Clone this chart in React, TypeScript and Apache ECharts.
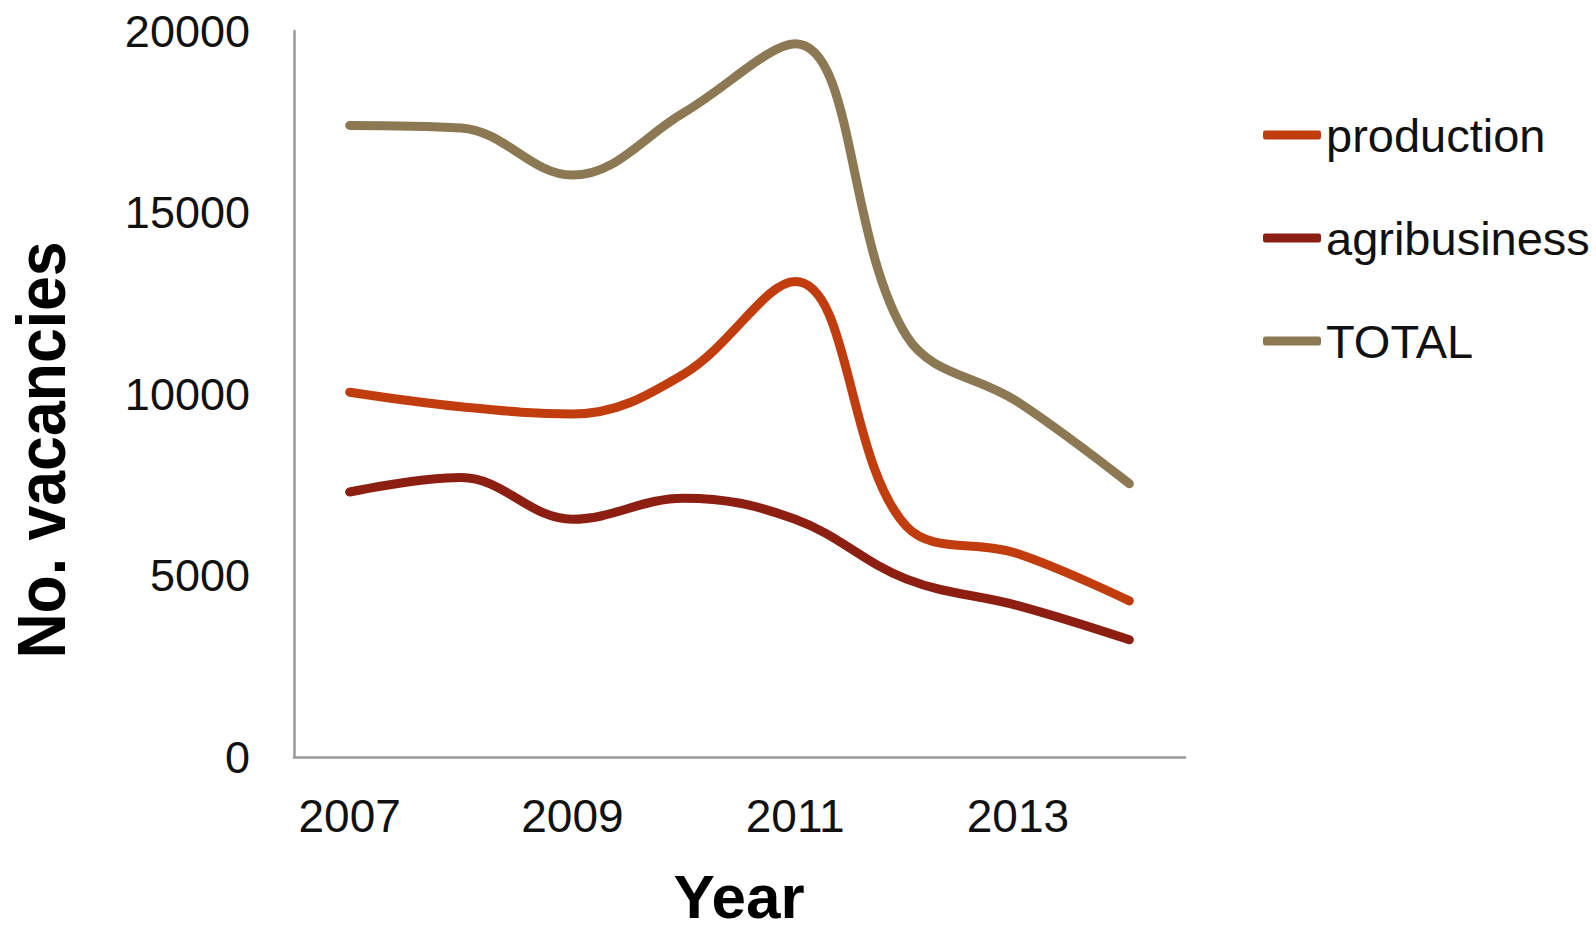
import React, { useEffect, useRef } from "react";
import * as echarts from "echarts";

const years = ["2007", "2008", "2009", "2010", "2011", "2012", "2013", "2014"];
const production = [10050, 9650, 9450, 10550, 13100, 6350, 5600, 4300];
const agribusiness = [7300, 7700, 6550, 7130, 6550, 4900, 4170, 3230];
const total = [17400, 17330, 16030, 17750, 19650, 11600, 9780, 7530];

const seriesNames = ["production", "agribusiness", "TOTAL"];
const seriesColors = ["#C23D0E", "#8C1F12", "#8C7953"];
const yTicks = { min: 0, max: 20000, interval: 5000 };
const xTitle = "Year";
const yTitle = "No. vacancies";

const FONT = "'Liberation Sans', Arial, Helvetica, sans-serif";

export default function App() {
  const ref = useRef<HTMLDivElement>(null);
  useEffect(() => {
    document.body.style.margin = "0";
    if (!ref.current) return;
    const chart = echarts.init(ref.current, undefined, { renderer: "svg" });
    const data = [production, agribusiness, total];
    chart.setOption({
      animation: false,
      backgroundColor: "#ffffff",
      grid: {
        left: 294,
        right: 411,
        top: 31,
        bottom: 174,
        containLabel: false,
        outerBoundsMode: "none",
      },
      legend: {
        orient: "vertical",
        left: 1258,
        top: 102,
        icon: "roundRect",
        itemWidth: 58,
        itemHeight: 9,
        itemGap: 47,
        data: seriesNames,
        textStyle: { fontFamily: FONT, fontSize: 47, color: "#111", lineHeight: 56 },
      },
      graphic: [
        {
          type: "text",
          x: 739,
          y: 896,
          style: {
            text: xTitle,
            fontFamily: FONT,
            fontSize: 62,
            lineHeight: 62,
            fontWeight: "bold",
            fill: "#000",
            align: "center",
            verticalAlign: "middle",
          },
        },
        {
          type: "text",
          x: 42,
          y: 450,
          rotation: Math.PI / 2,
          scaleX: 0.92,
          style: {
            text: yTitle,
            fontFamily: FONT,
            fontSize: 68,
            fontWeight: "bold",
            fill: "#000",
            align: "center",
            verticalAlign: "middle",
          },
        },
      ],
      xAxis: {
        type: "category",
        data: years,
        boundaryGap: true,
        axisLine: { lineStyle: { color: "#999", width: 2.5 } },
        axisTick: { show: false },
        axisLabel: { interval: 1, margin: 36, fontFamily: FONT, fontSize: 46, color: "#111" },
      },
      yAxis: {
        type: "value",
        min: yTicks.min,
        max: yTicks.max,
        interval: yTicks.interval,
        axisLine: { show: true, lineStyle: { color: "#999", width: 2.5 } },
        axisTick: { show: false },
        splitLine: { show: false },
        axisLabel: {
          margin: 44,
          fontFamily: FONT,
          fontSize: 45,
          color: "#111",
          formatter: (v: number) => String(v),
        },
      },
      series: seriesNames.map((n, i) => ({
        name: n,
        type: "line",
        data: data[i],
        smooth: 0.38,
        symbol: "none",
        lineStyle: { color: seriesColors[i], width: 9, cap: "round", join: "round" },
        itemStyle: { color: seriesColors[i] },
      })),
    });
    return () => chart.dispose();
  }, []);
  return <div ref={ref} style={{ width: 1596, height: 931 }} />;
}
